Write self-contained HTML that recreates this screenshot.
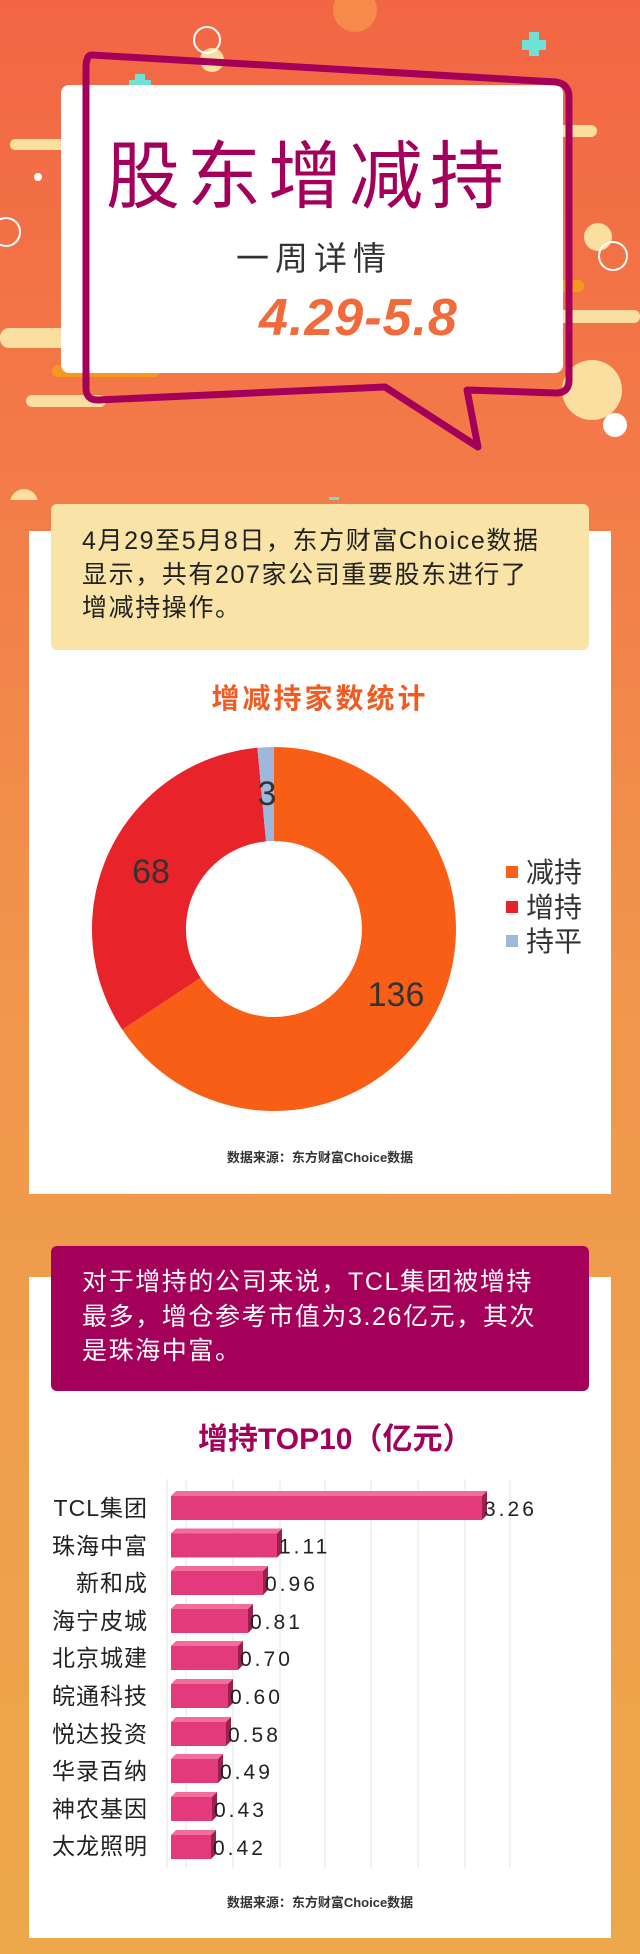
<!DOCTYPE html>
<html><head><meta charset="utf-8"><style>
*{margin:0;padding:0;box-sizing:border-box}
body{width:640px;height:1954px;position:relative;overflow:hidden;font-family:"Liberation Sans","Noto Sans CJK SC",sans-serif;background:linear-gradient(180deg,#f26644 0px,#f37a48 450px,#f0974c 1000px,#eda84b 1954px)}
.a{position:absolute}
.t{white-space:nowrap}
</style></head><body>
<!-- header decorations -->
<svg class="a" style="left:0;top:0" width="640" height="500">
<circle cx="355" cy="10" r="22" fill="#f58a4a"/>
<rect x="10" y="139" width="108" height="11" rx="5" fill="#fbdfa0"/>
<rect x="352" y="125" width="245" height="12" rx="6" fill="#fbdfa0"/>
<rect x="0" y="328" width="116" height="20" rx="9" fill="#fbdfa0"/>
<rect x="52" y="365" width="108" height="12" rx="6" fill="#f39a1e"/>
<rect x="26" y="395" width="80" height="12" rx="6" fill="#fbdfa0"/>
<rect x="476" y="280" width="108" height="12" rx="6" fill="#f39a1e"/>
<rect x="524" y="310" width="116" height="13" rx="6" fill="#fbdfa0"/>
<circle cx="212" cy="60" r="12" fill="#fbdfa0"/>
<circle cx="207" cy="40" r="13" fill="none" stroke="#fff" stroke-width="2"/>
<circle cx="6" cy="232" r="14" fill="none" stroke="#fff" stroke-width="2"/>
<circle cx="598" cy="237" r="14" fill="#fbdfa0"/>
<circle cx="613" cy="256" r="14" fill="none" stroke="#fff" stroke-width="2"/>
<circle cx="592" cy="390" r="30" fill="#fbdfa0"/>
<circle cx="615" cy="425" r="12" fill="#fff"/>
<circle cx="24" cy="503" r="14" fill="#fbdfa0"/>
<circle cx="38" cy="520" r="15" fill="none" stroke="#fff" stroke-width="2"/>
<circle cx="268" cy="92" r="6" fill="#fff"/>
<circle cx="38" cy="177" r="4" fill="#fff"/>
<path d="M129 80h22v10h-22zM135 74h10v22h-10z" fill="#6ee2d4"/>
<path d="M522 40h24v10h-24zM529 32h10v24h-10z" fill="#6ee2d4"/>
<path d="M322 505h24v10h-24zM329 497h10v24h-10z" fill="#6ee2d4"/>
<ellipse cx="330" cy="560" rx="210" ry="14" fill="#c85a2a" opacity=".35"/>
</svg>
<svg class="a" style="left:0;top:0" width="640" height="500">
<rect x="61" y="85" width="502" height="288" rx="8" fill="#fff"/>
<path d="M92 55 L556 82 Q569 84 569 97 L569 380 Q569 393 556 393 L467 390 L478 447 L385 387 L98 400 Q86 400 86 388 L86 68 Q86 55 92 55Z" fill="none" stroke="#a4005a" stroke-width="7" stroke-linejoin="round"/>
</svg>
<div class="a t" style="left:106px;top:135px;font-size:74px;line-height:84px;color:#a2005a;letter-spacing:7px">股东增减持</div>
<div class="a t" style="left:236px;top:239px;font-size:33px;line-height:40px;color:#333;letter-spacing:6px">一周详情</div>
<div class="a t" style="left:259px;top:290px;font-size:52px;line-height:56px;color:#f06a3c;font-weight:bold;font-style:italic;letter-spacing:1px">4.29-5.8</div>

<!-- card 1 -->
<div class="a" style="left:29px;top:531px;width:582px;height:663px;background:#fff"></div>
<div class="a" style="left:51px;top:504px;width:538px;height:146px;background:#f9e3a6;border-radius:6px"></div>
<div class="a t" style="left:82px;top:525px;font-size:25px;line-height:33.5px;color:#222;letter-spacing:1.6px">4月29至5月8日，东方财富Choice数据<br>显示，共有207家公司重要股东进行了<br>增减持操作。</div>
<div class="a t" style="left:0;width:640px;text-align:center;top:682px;font-size:28px;line-height:34px;color:#f05b22;font-weight:bold;letter-spacing:3px">增减持家数统计</div>
<svg class="a" style="left:0;top:700px" width="640" height="460">
<g transform="translate(274,229)">
<path d="M0 -182 A182 182 0 1 1 -151.7 100.6 L-73.4 48.7 A88 88 0 1 0 0 -88Z" fill="#f95e16"/>
<path d="M-151.7 100.6 A182 182 0 0 1 -16.6 -181.2 L-8.0 -87.6 A88 88 0 0 0 -73.4 48.7Z" fill="#e8232a"/>
<path d="M-16.6 -181.2 A182 182 0 0 1 0 -182 L0 -88 A88 88 0 0 0 -8.0 -87.6Z" fill="#9db8da"/>
</g>
<text x="267" y="105" font-size="34" fill="#333" text-anchor="middle" font-family="Liberation Sans,sans-serif">3</text>
<text x="151" y="183" font-size="34" fill="#333" text-anchor="middle" font-family="Liberation Sans,sans-serif">68</text>
<text x="396" y="306" font-size="34" fill="#333" text-anchor="middle" font-family="Liberation Sans,sans-serif">136</text>
<rect x="506" y="166" width="12" height="12" fill="#f95e16"/>
<rect x="506" y="201" width="12" height="12" fill="#e8232a"/>
<rect x="506" y="235" width="12" height="12" fill="#9db8da"/>
</svg>
<div class="a t" style="left:526px;top:856px;font-size:28px;line-height:34.5px;color:#333">减持<br>增持<br>持平</div>
<div class="a t" style="left:0;width:640px;text-align:center;top:1149px;font-size:13px;line-height:18px;color:#333;font-weight:bold">数据来源：东方财富Choice数据</div>

<!-- card 2 -->
<div class="a" style="left:29px;top:1277px;width:582px;height:661px;background:#fff"></div>
<div class="a" style="left:51px;top:1246px;width:538px;height:145px;background:#a4005a;border-radius:6px"></div>
<div class="a t" style="left:82px;top:1265px;font-size:25px;line-height:34.5px;color:#fff;letter-spacing:1.6px">对于增持的公司来说，TCL集团被增持<br>最多，增仓参考市值为3.26亿元，其次<br>是珠海中富。</div>
<div class="a t" style="left:198px;top:1422px;font-size:30px;line-height:36px;color:#a4005a;font-weight:bold">增持TOP10（亿元）</div>
<svg class="a" style="left:0;top:1470px" width="640" height="410">
<g stroke="#e6e6e6" stroke-width="1">
<line x1="167" y1="9" x2="167" y2="398"/><line x1="186" y1="9" x2="186" y2="398"/><line x1="233" y1="9" x2="233" y2="398"/><line x1="280" y1="9" x2="280" y2="398"/><line x1="325" y1="9" x2="325" y2="398"/><line x1="371" y1="9" x2="371" y2="398"/><line x1="418" y1="9" x2="418" y2="398"/><line x1="465" y1="9" x2="465" y2="398"/><line x1="510" y1="9" x2="510" y2="398"/>
</g>
<g font-family="Liberation Sans,sans-serif" font-size="21" fill="#222">
<g transform="translate(0,38)"><rect x="171" y="-12" width="311" height="24" fill="#e23a7a"/><path d="M171 -12l5 -5h311l-5 5z" fill="#f06d9c"/><path d="M482 -12l5 -5v24l-5 5z" fill="#9a2050"/><text x="484" y="8" letter-spacing="3">3.26</text></g>
<g transform="translate(0,75.5)"><rect x="171" y="-12" width="106" height="24" fill="#e23a7a"/><path d="M171 -12l5 -5h106l-5 5z" fill="#f06d9c"/><path d="M277 -12l5 -5v24l-5 5z" fill="#9a2050"/><text x="279" y="8" letter-spacing="3">1.11</text></g>
<g transform="translate(0,113)"><rect x="171" y="-12" width="92" height="24" fill="#e23a7a"/><path d="M171 -12l5 -5h92l-5 5z" fill="#f06d9c"/><path d="M263 -12l5 -5v24l-5 5z" fill="#9a2050"/><text x="265" y="8" letter-spacing="3">0.96</text></g>
<g transform="translate(0,151)"><rect x="171" y="-12" width="77" height="24" fill="#e23a7a"/><path d="M171 -12l5 -5h77l-5 5z" fill="#f06d9c"/><path d="M248 -12l5 -5v24l-5 5z" fill="#9a2050"/><text x="250" y="8" letter-spacing="3">0.81</text></g>
<g transform="translate(0,188)"><rect x="171" y="-12" width="67" height="24" fill="#e23a7a"/><path d="M171 -12l5 -5h67l-5 5z" fill="#f06d9c"/><path d="M238 -12l5 -5v24l-5 5z" fill="#9a2050"/><text x="240" y="8" letter-spacing="3">0.70</text></g>
<g transform="translate(0,226)"><rect x="171" y="-12" width="57" height="24" fill="#e23a7a"/><path d="M171 -12l5 -5h57l-5 5z" fill="#f06d9c"/><path d="M228 -12l5 -5v24l-5 5z" fill="#9a2050"/><text x="230" y="8" letter-spacing="3">0.60</text></g>
<g transform="translate(0,264)"><rect x="171" y="-12" width="55" height="24" fill="#e23a7a"/><path d="M171 -12l5 -5h55l-5 5z" fill="#f06d9c"/><path d="M226 -12l5 -5v24l-5 5z" fill="#9a2050"/><text x="228" y="8" letter-spacing="3">0.58</text></g>
<g transform="translate(0,301)"><rect x="171" y="-12" width="47" height="24" fill="#e23a7a"/><path d="M171 -12l5 -5h47l-5 5z" fill="#f06d9c"/><path d="M218 -12l5 -5v24l-5 5z" fill="#9a2050"/><text x="220" y="8" letter-spacing="3">0.49</text></g>
<g transform="translate(0,339)"><rect x="171" y="-12" width="41" height="24" fill="#e23a7a"/><path d="M171 -12l5 -5h41l-5 5z" fill="#f06d9c"/><path d="M212 -12l5 -5v24l-5 5z" fill="#9a2050"/><text x="214" y="8" letter-spacing="3">0.43</text></g>
<g transform="translate(0,377)"><rect x="171" y="-12" width="40" height="24" fill="#e23a7a"/><path d="M171 -12l5 -5h40l-5 5z" fill="#f06d9c"/><path d="M211 -12l5 -5v24l-5 5z" fill="#9a2050"/><text x="213" y="8" letter-spacing="3">0.42</text></g>
</g>
</svg>
<div class="a t" style="left:0;width:148px;text-align:right;top:1490px;font-size:23px;line-height:37.6px;color:#222;letter-spacing:1px">TCL集团<br>珠海中富<br>新和成<br>海宁皮城<br>北京城建<br>皖通科技<br>悦达投资<br>华录百纳<br>神农基因<br>太龙照明</div>
<div class="a t" style="left:0;width:640px;text-align:center;top:1894px;font-size:13px;line-height:18px;color:#333;font-weight:bold">数据来源：东方财富Choice数据</div>
</body></html>
